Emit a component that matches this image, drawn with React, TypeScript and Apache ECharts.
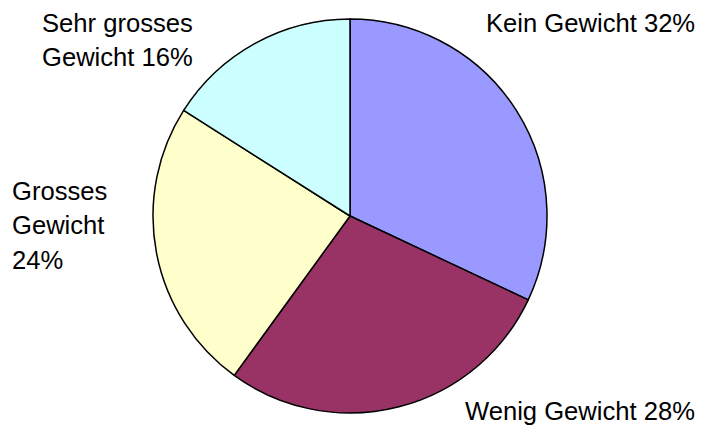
import React, { useEffect, useRef } from "react";
import * as echarts from "echarts";

const categories = ["Kein Gewicht", "Wenig Gewicht", "Grosses Gewicht", "Sehr grosses Gewicht"];
const values = [32, 28, 24, 16];
const labelTexts = ["Kein Gewicht 32%", "Wenig Gewicht 28%", "Grosses\nGewicht\n24%", "Sehr grosses\nGewicht 16%"];
const colors = ["#9999FF", "#993366", "#FFFFCC", "#CCFFFF"];
const labelPos = [
  { x: 486, y: 23 },
  { x: 465, y: 411 },
  { x: 12, y: 225 },
  { x: 42, y: 40 },
];

export default function App() {
  const ref = useRef<HTMLDivElement>(null);
  useEffect(() => {
    if (!ref.current) return;
    const chart = echarts.init(ref.current, null, { renderer: "svg" });
    chart.setOption({
      animation: false,
      backgroundColor: "#ffffff",
      series: [
        {
          type: "pie",
          center: [350, 216],
          radius: 197,
          startAngle: 90,
          clockwise: true,
          avoidLabelOverlap: false,
          data: categories.map((c, i) => ({
            name: c,
            value: values[i],
            itemStyle: { color: colors[i] },
          })),
          itemStyle: { borderColor: "#000000", borderWidth: 1.5 },
          label: {
            show: true,
            position: "outside",
            formatter: (p: any) => labelTexts[p.dataIndex],
            fontFamily: "Liberation Sans, Arial, sans-serif",
            fontSize: 25.6,
            lineHeight: 34.5,
            color: "#000000",
          },
          labelLine: { show: false },
          labelLayout: (p: any) => ({
            x: labelPos[p.dataIndex].x,
            y: labelPos[p.dataIndex].y,
            align: "left",
            verticalAlign: "middle",
          }),
          emphasis: { disabled: true },
        },
      ],
    });
    return () => chart.dispose();
  }, []);
  return (
    <div
      ref={ref}
      style={{ position: "absolute", left: 0, top: 0, width: 704, height: 426 }}
    />
  );
}
